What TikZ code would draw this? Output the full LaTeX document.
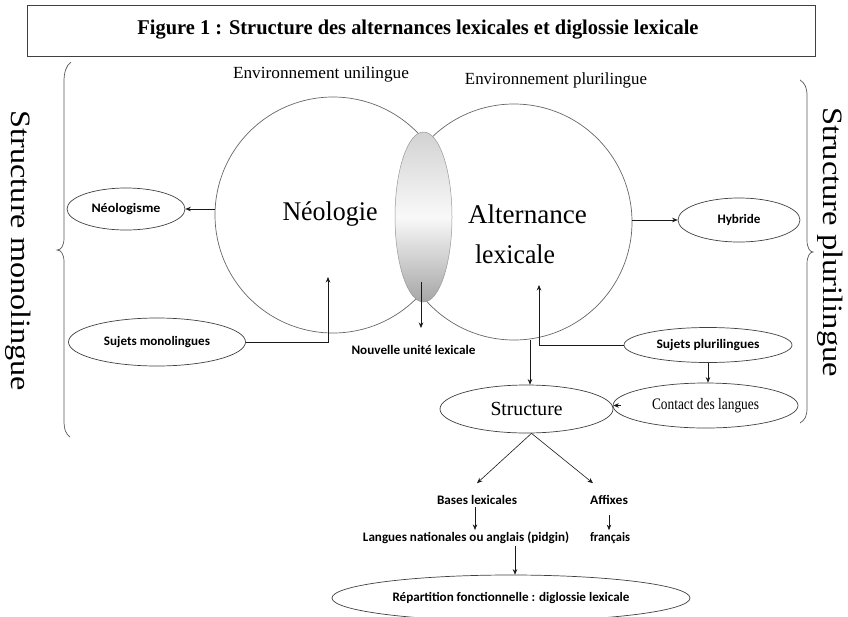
\documentclass[tikz,border=0pt]{standalone}
\usepackage{fontspec}
\setmainfont{Liberation Serif}
\newfontfamily\labfont{Carlito}
\usepackage{graphicx}
\usetikzlibrary{shapes.geometric,arrows.meta}
\newcommand\fitw[2]{\resizebox{#1pt}{\height}{#2}}
\begin{document}
\begin{tikzpicture}[x=1pt,y=-1pt,
  ln/.style={draw=black!90,line width=0.6pt},
  arr/.style={ln,-{Stealth[length=5.5pt,width=4.5pt]}},
  venn/.style={circle,draw=black!60,line width=0.7pt,minimum size=236pt,inner sep=0pt},
  oval/.style={ellipse,draw=black!75,line width=0.7pt,inner sep=0pt},
  lab/.style={font=\labfont\bfseries\fontsize{13}{13}\selectfont,inner sep=2pt},
  sertxt/.style={font=\fontsize{#1}{#1}\selectfont,inner sep=0pt},
  bracestyle/.style={draw=black!65,line width=0.7pt}]
\useasboundingbox (0,0) rectangle (848,616);

% title
\node[draw=black!75,line width=0.8pt,minimum width=788pt,minimum height=51pt,inner sep=0pt] (titlebox) at (421,30.5) {};
\node[font=\bfseries\fontsize{21}{21}\selectfont,inner sep=0pt] (title) at (418,30) {\fitw{561}{Figure 1 : Structure des alternances lexicales et diglossie lexicale}};

% environment labels
\node[sertxt=17] (envu) at (321,74) {\fitw{176}{Environnement unilingue}};
\node[sertxt=17] (envp) at (556,80) {\fitw{182}{Environnement plurilingue}};

% braces
\draw[bracestyle] (71,62) .. controls (66,66) and (64,72) .. (64,82) -- (64,238) .. controls (64,246) and (61,250) .. (57,250) .. controls (61,250) and (64,254) .. (64,262) -- (64,420) .. controls (64,430) and (66,434) .. (70,437);
\draw[bracestyle] (800,80) .. controls (805,83) and (807,88) .. (807,96) -- (807,240) .. controls (807,248) and (810,252) .. (813,252) .. controls (810,252) and (807,256) .. (807,264) -- (807,408) .. controls (807,416) and (805,420) .. (800,423);
\node[rotate=-90,sertxt=28] (smono) at (18.5,251) {\fitw{280}{Structure monolingue}};
\node[rotate=-90,sertxt=28] (spluri) at (830,242) {\fitw{270}{Structure plurilingue}};

% Venn circles
\node[venn] (neo) at (333,215) {};
\node[venn] (alt) at (514,222) {};
\node[ellipse,minimum width=57pt,minimum height=170pt,inner sep=0pt,draw=black!40,line width=0.5pt,
      top color=gray!35,bottom color=gray!70,middle color=gray!5] (inter) at (423.5,217) {};
\node[sertxt=27,anchor=base] (neotxt) at (330,220) {\fitw{95}{Néologie}};
\node[sertxt=27,anchor=base] (alttxt) at (527.5,223) {\fitw{119}{Alternance}};
\node[sertxt=27,anchor=base] (lextxt) at (515,263) {\fitw{80}{lexicale}};

% ovals
\node[oval,lab,minimum width=118pt,minimum height=42pt] (neologisme) at (126,209) {\fitw{69}{Néologisme}};
\node[oval,lab,minimum width=177pt,minimum height=48pt] (sujmono) at (157,342) {\fitw{106}{Sujets monolingues}};
\node[oval,lab,minimum width=122pt,minimum height=44pt] (hybride) at (739,220) {\fitw{43}{Hybride}};
\node[oval,lab,minimum width=168pt,minimum height=35pt] (sujpluri) at (708,345) {\fitw{103}{Sujets plurilingues}};
\node[oval,sertxt=16,minimum width=185pt,minimum height=45pt] (contact) at (705.5,405.5) {\fitw{107}{Contact des langues}};
\node[oval,sertxt=20,minimum width=173pt,minimum height=48pt] (structure) at (526.5,409) {\fitw{72}{Structure}};
\node[oval,lab,minimum width=358pt,minimum height=46pt] (repart) at (511,598) {\fitw{237}{Répartition fonctionnelle : diglossie lexicale}};

% plain labels
\node[lab] (nouv) at (413.5,350) {\fitw{124}{Nouvelle unité lexicale}};
\node[lab] (bases) at (477,500) {\fitw{80}{Bases lexicales}};
\node[lab] (affixes) at (609,500) {\fitw{38}{Affixes}};
\node[lab] (langues) at (466,538) {\fitw{206}{Langues nationales ou anglais (pidgin)}};
\node[lab] (francais) at (610,538) {\fitw{40}{français}};

% connectors
\coordinate (neoIn) at (328,277);
\coordinate (altIn) at (539,285);
\coordinate (nouvTop) at (421,282);
\coordinate (nouvTip) at (421,328);
\coordinate (sN) at ([xshift=3.5pt]structure.north);
\coordinate (apex) at ([xshift=5pt]structure.south);
\coordinate (lgOut) at ([xshift=49pt]langues.south);

\draw[arr] (neo.west |- neologisme.east) -- (neologisme.east);
\draw[arr] (sujmono.east) -| (neoIn);
\draw[arr] (nouvTop) -- (nouvTip);
\draw[arr] (alt.east |- hybride.west) -- (hybride.west);
\draw[arr] (sujpluri.west) -| (altIn);
\draw[arr] (sujpluri.south) -- (sujpluri.south |- contact.north);
\draw[arr] ([xshift=8pt]contact.west) -- (structure.east |- contact.west);
\draw[arr] (sN |- alt.south) -- (sN);
\draw[arr] (apex) -- ([yshift=10pt]bases.north);
\draw[arr] (apex) -- ([xshift=-16pt,yshift=10pt]affixes.north);
\draw[arr] ([xshift=-2pt]bases.south) -- ([xshift=-2pt]bases.south |- langues.north);
\draw[arr,shorten <=8pt] (affixes.south) -- (affixes.south |- francais.north);
\draw[arr] (lgOut) -- (lgOut |- repart.north);
\end{tikzpicture}
\end{document}
